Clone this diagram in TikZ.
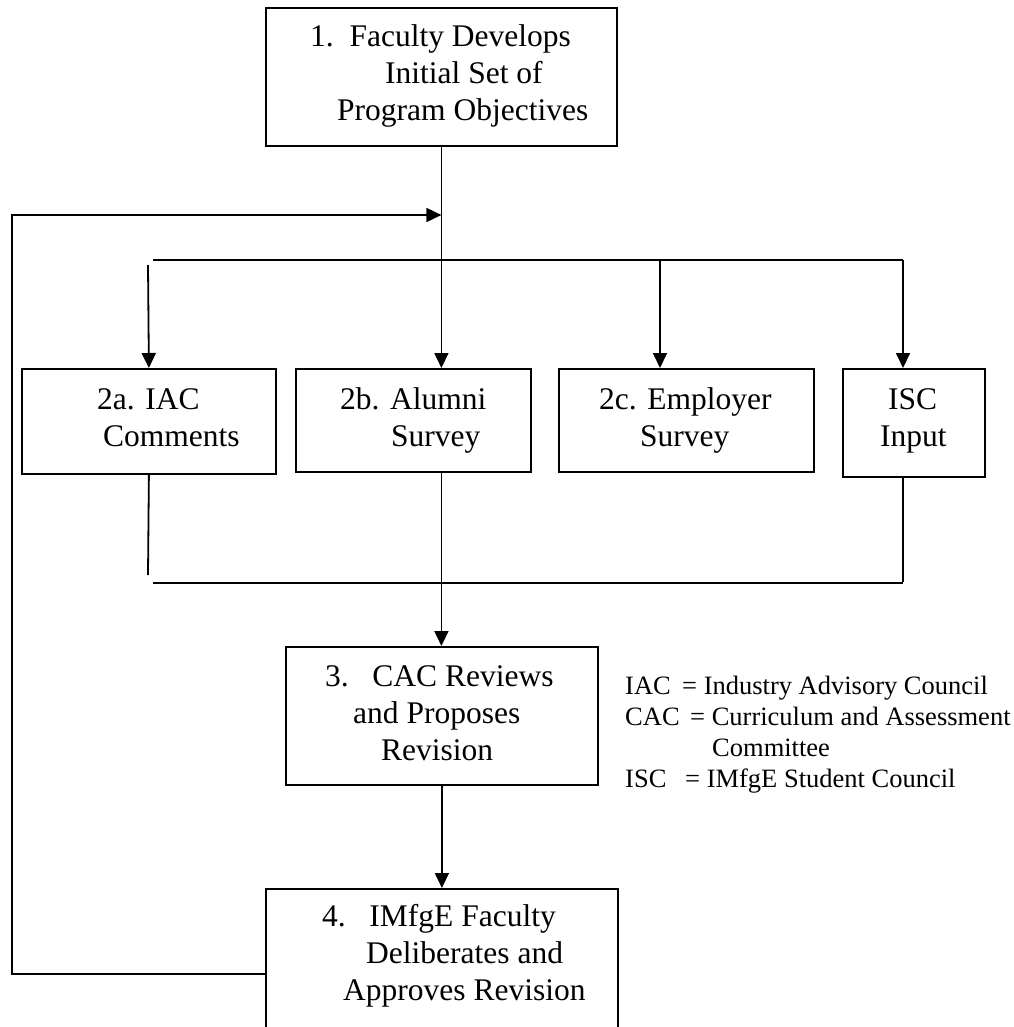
\documentclass[tikz,border=0pt]{standalone}
\usepackage{fontspec}
\setmainfont{Liberation Serif}
\usetikzlibrary{arrows.meta}
\begin{document}
\begin{tikzpicture}[x=1pt,y=-1pt,
  box/.style={draw, line width=1.8pt, inner sep=0pt, anchor=north west},
  txt/.style={anchor=base west, inner sep=0pt, font=\fontsize{31.5}{37}\selectfont},
  leg/.style={anchor=base west, inner sep=0pt, font=\fontsize{26.5}{31}\selectfont},
  ln/.style={line width=1.8pt},
  arr/.style={ln, -{Triangle[length=15pt,width=14pt]}}]
\useasboundingbox (0,0) rectangle (1013,1027);
\clip (0,0) rectangle (1013,1027);

% boxes
\node[box, minimum width=351pt, minimum height=138pt] (b1) at (265,7) {};
\node[box, minimum width=254pt, minimum height=105pt] (b2a) at (21,368) {};
\node[box, minimum width=235pt, minimum height=103pt] (b2b) at (295,368) {};
\node[box, minimum width=255pt, minimum height=103pt] (b2c) at (558,368) {};
\node[box, minimum width=142pt, minimum height=108pt] (b2d) at (842,368) {};
\node[box, minimum width=312pt, minimum height=138pt] (b3) at (285,646) {};
\node[box, minimum width=352pt, minimum height=170pt] (b4) at (265,888) {};

% box texts
\node[txt] (t1a) at (310,47) {1.\ \ Faculty Develops};
\node[txt] (t1b) at (385,84) {Initial Set of};
\node[txt] (t1c) at (337,121) {Program Objectives};

\node[txt] (t2a1) at (97,409) {2a. IAC};
\node[txt] (t2a2) at (103,446) {Comments};
\node[txt] (t2b1) at (340,409) {2b. Alumni};
\node[txt] (t2b2) at (391,446) {Survey};
\node[txt] (t2c1) at (599,409) {2c. Employer};
\node[txt] (t2c2) at (640,446) {Survey};
\node[txt] (t2d1) at (888,409) {ISC};
\node[txt] (t2d2) at (880,446) {Input};

\node[txt] (t3a) at (325,686) {3.\ \ \ CAC Reviews};
\node[txt] (t3b) at (353,723) {and Proposes};
\node[txt] (t3c) at (381,760) {Revision};

\node[txt] (t4a) at (322,926) {4.\ \ \ IMfgE Faculty};
\node[txt] (t4b) at (366,963) {Deliberates and};
\node[txt] (t4c) at (343,1000) {Approves Revision};

% legend
\node[leg] (l1a) at (625,694) {IAC};
\node[leg] (l1b) at (682,694) {= Industry Advisory Council};
\node[leg] (l2a) at (625,725) {CAC};
\node[leg] (l2b) at (690,725) {= Curriculum and Assessment};
\node[leg] (l2c) at (712,756) {Committee};
\node[leg] (l3a) at (625,787) {ISC};
\node[leg] (l3b) at (685,787) {= IMfgE Student Council};

% coordinates
\coordinate (fbc) at (12,215);
\coordinate (dLs) at (153,260);
\coordinate (dLv) at (148,265);
\coordinate (dC) at (660,260);
\coordinate (dR) at (903,260);
\coordinate (cL) at (148,575);
\coordinate (cR) at (903,582);
\coordinate (cHL) at (153,583);
\coordinate (cHR) at (903,583);

% connectors
\draw[arr] (b1.south) -- (b1.south |- b2b.north);
\draw[arr] (b4.west) -- (b4.west -| fbc) -- (fbc) -- (fbc -| b1.south);
\draw[ln] (dLs) -- (dR);
\draw[arr] (dLv) -- (b2a.north);
\draw[arr] (dC) -- (dC |- b2c.north);
\draw[arr] (dR) -- (dR |- b2d.north);
\draw[ln] (b2a.south) -- (cL);
\draw[ln] (dR |- b2d.south) -- (cR);
\draw[ln] (cHL) -- (cHR);
\draw[arr] (b1.south |- b2b.south) -- (b1.south |- b3.north);
\draw[arr] (b3.south) -- (b3.south |- b4.north);
\end{tikzpicture}
\end{document}
